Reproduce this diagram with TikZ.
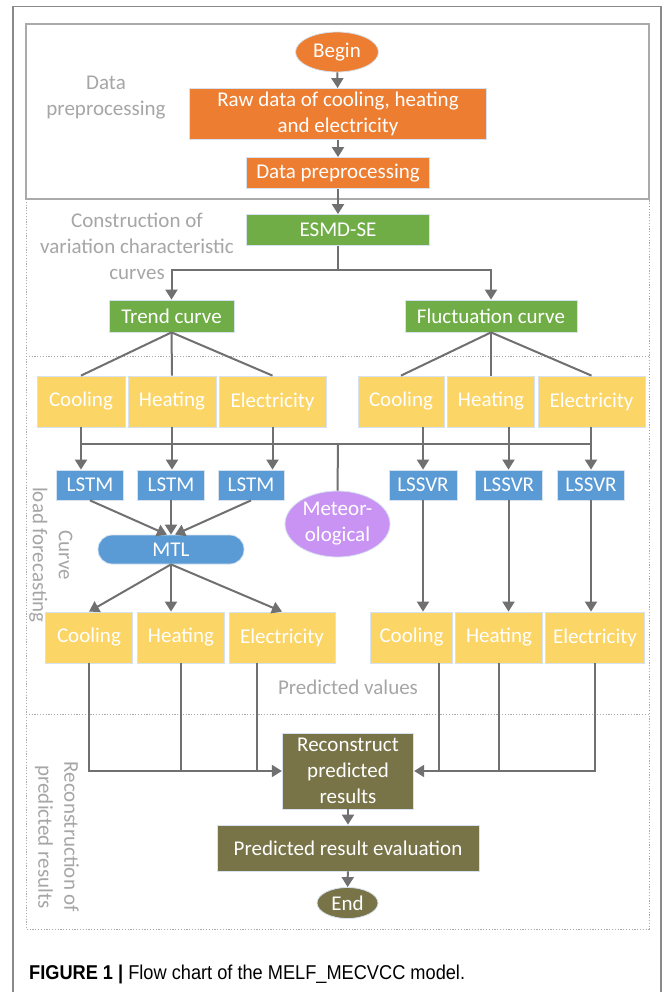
\documentclass[tikz,border=0pt]{standalone}
\usepackage{fontspec}
\setmainfont{Carlito}
\newfontfamily\capfont{Liberation Sans}
\usetikzlibrary{arrows.meta,calc,shapes.geometric}
\definecolor{orng}{HTML}{ED7D31}
\definecolor{grn}{HTML}{70AD47}
\definecolor{yel}{HTML}{FBD566}
\definecolor{blu}{HTML}{5B9BD5}
\definecolor{purp}{HTML}{C993F3}
\definecolor{oliv}{HTML}{787448}
\definecolor{lncol}{HTML}{707070}
\definecolor{labcol}{HTML}{A6A6A6}
\definecolor{frm}{HTML}{8A8A8A}
\definecolor{sec}{HTML}{AAAAAA}
\definecolor{edge}{HTML}{D6E2F0}
\tikzset{
  txt/.style={font=\fontsize{21}{26}\selectfont, align=center},
  base/.style={txt, inner sep=0pt, text=white, draw=edge, line width=0.8pt},
  bx/.style n args={3}{base, rectangle, fill=#1, minimum width=#2, minimum height=#3},
  el/.style n args={3}{base, ellipse, fill=#1, minimum width=#2, minimum height=#3},
  ln/.style={draw=lncol, line width=2pt},
  arr/.style={ln, -{Triangle[length=10pt,width=12pt]}},
  lab/.style={txt, text=labcol, inner sep=0pt},
  dotsec/.style={draw=sec, line width=1pt, dash pattern=on 1.2pt off 1.6pt},
}
\begin{document}
\begin{tikzpicture}[x=1pt,y=-1pt]
\useasboundingbox (0,0) rectangle (663,992);
\fill[white] (0,0) rectangle (663,992);
% frames
\draw[frm, line width=1.6pt] (12.7,992) -- (12.7,6.5) -- (661,6.5) -- (661,992);
\draw[dotsec] (26,199) -- (26,929) -- (649,929) -- (649,199);
\draw[dotsec] (26,356) -- (649,356);
\draw[dotsec] (26,714) -- (649,714);
\draw[sec, line width=1.5pt] (26,24) rectangle (649,199);

% labels
\node[lab] (l1lab) at (106,98) {Data\\preprocessing};
\node[lab] (l2lab) at (137,246) {Construction of\\variation characteristic\\curves};
\node[lab, rotate=-90] (l3lab) at (51,555) {Curve\\load forecasting};
\node[lab] (l4lab) at (348,687) {Predicted values};
\node[lab, rotate=-90] (l5lab) at (57,837) {Reconstruction of\\predicted results};

% nodes
\node[el={orng}{83}{40}] (begin) at (337,52) {Begin};
\node[bx={orng}{297}{51}] (raw) at (338,114) {Raw data of cooling, heating\\and electricity};
\node[bx={orng}{183}{31}] (pre) at (338,173) {Data preprocessing};
\node[bx={grn}{183}{31}] (esmd) at (338,230) {ESMD-SE};
\node[bx={grn}{125}{32}] (trend) at (171.5,316) {Trend curve};
\node[bx={grn}{172}{32}] (fluct) at (491,316) {Fluctuation curve};

\node[bx={yel}{88}{51}] (yc1) at (81,401.5) {Cooling};
\node[bx={yel}{88}{51}] (yc2) at (172,401.5) {Heating};
\node[bx={yel}{107}{51}] (yc3) at (272.5,401.5) {Electricity};
\node[bx={yel}{86}{51}] (yc4) at (401,401.5) {Cooling};
\node[bx={yel}{87}{51}] (yc5) at (491,401.5) {Heating};
\node[bx={yel}{107}{51}] (yc6) at (591.5,401.5) {Electricity};

\node[bx={blu}{67}{30}] (t1) at (90,485) {LSTM};
\node[bx={blu}{67}{30}] (t2) at (171,485) {LSTM};
\node[bx={blu}{66}{30}] (t3) at (251,485) {LSTM};
\node[bx={blu}{68}{30}] (s1) at (423,485) {LSSVR};
\node[bx={blu}{67}{30}] (s2) at (508.5,485) {LSSVR};
\node[bx={blu}{66.5}{30}] (s3) at (591,485) {LSSVR};

\node[el={purp}{105}{66}] (met) at (337.5,524) {Meteor-\\ological};
\node[base, rectangle, fill=blu, minimum width=146, minimum height=29, rounded corners=14pt] (mtl) at (171,549.5) {MTL};

\node[bx={yel}{87}{51}] (yd1) at (89,637.5) {Cooling};
\node[bx={yel}{87}{51}] (yd2) at (181,637.5) {Heating};
\node[bx={yel}{106}{51}] (yd3) at (282,637.5) {Electricity};
\node[bx={yel}{82}{51}] (yd4) at (411.5,637.5) {Cooling};
\node[bx={yel}{87}{51}] (yd5) at (499,637.5) {Heating};
\node[bx={yel}{99}{51}] (yd6) at (595,637.5) {Electricity};

\node[bx={oliv}{131.5}{76}] (rec) at (348,771) {Reconstruct\\predicted\\results};
\node[bx={oliv}{262}{46}] (eval) at (348,848) {Predicted result evaluation};
\node[el={oliv}{61}{31}] (end) at (347.5,903) {End};

\node[font=\capfont\fontsize{20}{23}\selectfont, anchor=west, inner sep=0pt, xscale=0.91] (cap) at (29,974) {\textbf{FIGURE 1 |} Flow chart of the MELF\_MECVCC model.};

% connectors
\draw[arr] (begin) -- (raw);
\draw[arr] (raw) -- (pre);
\draw[arr] (pre) -- (esmd);
\coordinate (sp) at (338,270);
\draw[ln] (esmd.south) -- (sp);
\draw[arr] (sp) -| (trend.north);
\draw[arr] (sp) -| (fluct.north);

\draw[ln] (trend.south) -- (yc1.north);
\draw[ln] (trend.south) -- (yc2.north);
\draw[ln] (trend.south) -- (yc3.north);
\draw[ln] (fluct.south) -- (yc4.north);
\draw[ln] (fluct.south) -- (yc5.north);
\draw[ln] (fluct.south) -- (yc6.north);

\coordinate (bus) at (338,444);
\draw[ln] (yc1 |- bus) -- (s3 |- bus);
\draw[ln] (yc1.south) -- (yc1 |- bus);
\draw[ln] (yc2.south) -- (yc2 |- bus);
\draw[ln] (yc3.south) -- (yc3 |- bus);
\draw[ln] (s1 |- yc4.south) -- (s1 |- bus);
\draw[ln] (s2 |- yc5.south) -- (s2 |- bus);
\draw[ln] (s3 |- yc6.south) -- (s3 |- bus);
\draw[arr] (yc1 |- bus) -- (yc1 |- t1.north);
\draw[arr] (yc2 |- bus) -- (yc2 |- t2.north);
\draw[arr] (yc3 |- bus) -- (yc3 |- t3.north);
\draw[arr] (s1 |- bus) -- (s1.north);
\draw[arr] (s2 |- bus) -- (s2.north);
\draw[arr] (s3 |- bus) -- (s3.north);
\draw[ln] (bus) -- (met.north);

\draw[arr] (t1.south) -- ($(mtl.north)+(-4,0)$);
\draw[arr] (t2.south) -- (mtl.north);
\draw[arr] (t3.south) -- ($(mtl.north)+(4,0)$);

\draw[arr] (mtl.south) -- (yd1.north);
\draw[arr] (mtl.south) -- (mtl.south |- yd2.north);
\draw[arr] (mtl.south) -- (yd3.north);

\draw[arr] (s1.south) -- (s1 |- yd4.north);
\draw[arr] (s2.south) -- (s2 |- yd5.north);
\draw[arr] (s3.south) -- (s3 |- yd6.north);

\draw[arr] (yd1.south) |- (rec.west);
\draw[ln] (yd2.south) -- (yd2 |- rec.west);
\draw[ln] ($(yd3.south)+(-25,0)$) -- ($(yd3.south |- rec.west)+(-25,0)$);
\draw[arr] (yd6.south) |- (rec.east);
\draw[ln] (yd5.south) -- (yd5 |- rec.east);
\draw[ln] ($(yd4.south)+(27,0)$) -- ($(yd4.south |- rec.east)+(27,0)$);

\draw[arr] (rec) -- (eval);
\draw[arr] (eval) -- (end);
\end{tikzpicture}
\end{document}
